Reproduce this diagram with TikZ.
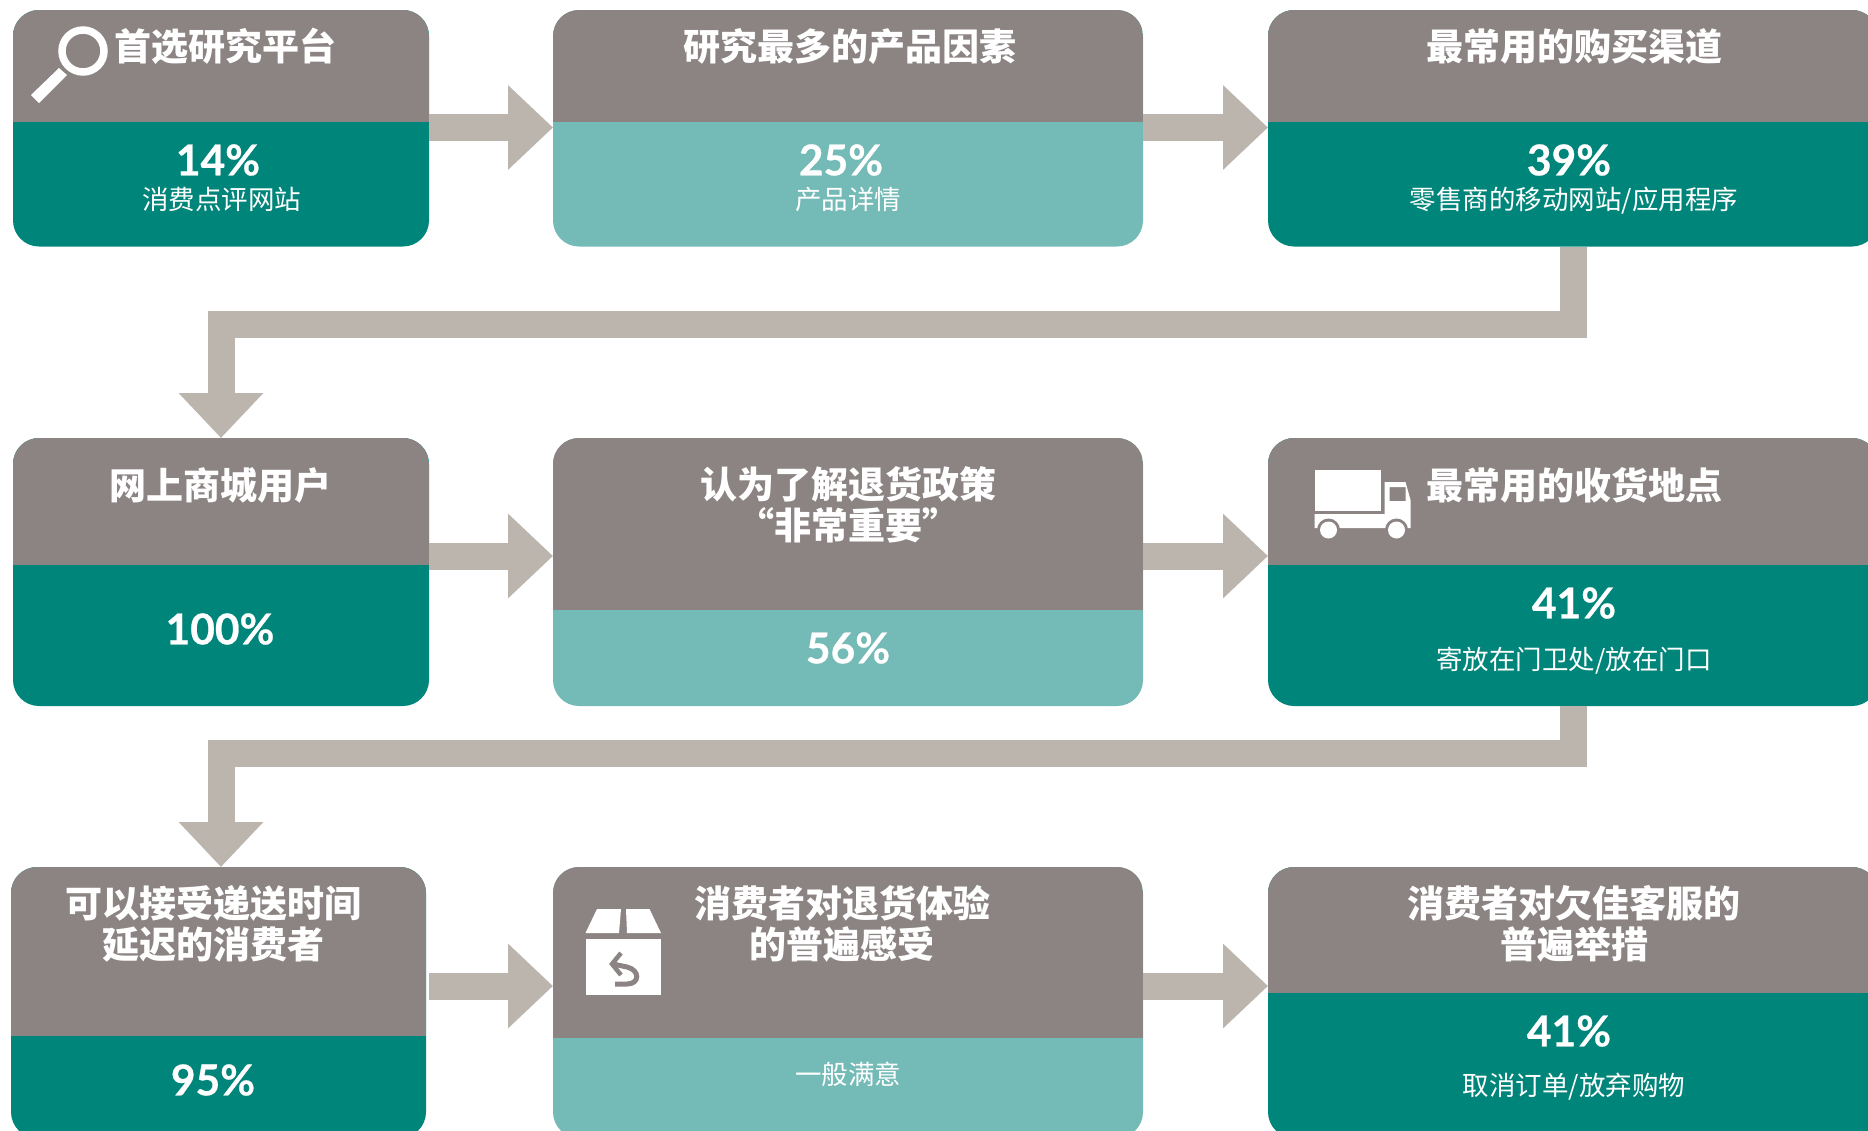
\documentclass[tikz,border=0pt]{standalone}
\usepackage{fontspec}
\usetikzlibrary{arrows.meta}
\setmainfont{Noto Sans CJK SC}
\newfontfamily\numfont[BoldFeatures={FakeBold=0.6}]{Lato}
\definecolor{hdr}{HTML}{8B8483}
\definecolor{teal}{HTML}{00857A}
\definecolor{lteal}{HTML}{74BAB6}
\definecolor{flowc}{HTML}{BCB5AE}
\tikzset{
  cardbox/.style={inner sep=0pt,outer sep=0pt,rounded corners=26pt},
  titletxt/.style={text=white,align=center,inner sep=0pt,font=\fontsize{37}{41}\selectfont\bfseries},
  numtxt/.style={text=white,inner sep=0pt,font=\fontsize{42.5}{44}\selectfont\numfont\bfseries},
  subtxt/.style={text=white,inner sep=0pt,font=\fontsize{26.5}{30}\selectfont},
  flow/.style={draw=flowc,line width=27pt,line join=miter,-{Triangle[length=45pt,width=82pt,color=flowc]}}
}
% name, x1, x2, y1, ysplit, y2, lower colour
\newcommand\card[7]{%
  \node[cardbox,fill=#7,minimum width={(#3-#2)*1pt},minimum height={(#6-#4)*1pt},
    path picture={\fill[hdr,sharp corners] (path picture bounding box.north west) rectangle
      ([yshift={-(#5-#4)*1pt}]path picture bounding box.north east);}]
    (#1) at ({(#2+#3)/2},{(#4+#6)/2}) {};}
\begin{document}
\begin{tikzpicture}[x=1pt,y=-1pt]
\useasboundingbox (0,0) rectangle (1868,1130);
\coordinate (r1) at (0,127.5);
\coordinate (r2) at (0,556);
\coordinate (r3) at (0,986);
% cards
\card{b1}{13}{429}{10}{121.5}{246.5}{teal}
\card{b2}{553}{1143}{10}{121.5}{246.5}{lteal}
\card{b3}{1268}{1878}{10}{121.5}{246.5}{teal}
\card{b4}{13}{429}{438}{565}{706}{teal}
\card{b5}{553}{1143}{438}{610}{706}{lteal}
\card{b6}{1268}{1878}{438}{565}{706}{teal}
\card{b7}{11}{426}{867}{1036}{1138}{teal}
\card{b8}{553}{1143}{867}{1038}{1138}{lteal}
\card{b9}{1268}{1878}{867}{993}{1138}{teal}
% connectors
\draw[flow] (b1.east |- r1) -- (b2.west |- r1);
\draw[flow] (b2.east |- r1) -- (b3.west |- r1);
\draw[flow] (b4.east |- r2) -- (b5.west |- r2);
\draw[flow] (b5.east |- r2) -- (b6.west |- r2);
\draw[flow] ([xshift=3pt]b7.east |- r3) -- (b8.west |- r3);
\draw[flow] (b8.east |- r3) -- (b9.west |- r3);
\draw[flow] (b3.south) -- ++(0,78) -| (b4.north);
\draw[flow] (b6.south) -- ++(0,47) -| (b4.north |- b7.north);
% texts
\node[titletxt] (t1) at (225,46) {首选研究平台};
\node[numtxt] (n1) at (218,160) {14\%};
\node[subtxt] (s1) at (221.5,199) {消费点评网站};
\node[titletxt] (t2) at (849.5,46) {研究最多的产品因素};
\node[numtxt] (n2) at (841,160) {25\%};
\node[subtxt] (s2) at (848,199) {产品详情};
\node[titletxt] (t3) at (1574,46) {最常用的购买渠道};
\node[numtxt] (n3) at (1569,160) {39\%};
\node[subtxt] (s3) at (1574,201) {零售商的移动网站/应用程序};
\node[titletxt] (t4) at (220,485) {网上商城用户};
\node[numtxt] (n4) at (220,629) {100\%};
\node[titletxt] (t5) at (848,505) {认为了解退货政策\\“非常重要”};
\node[numtxt] (n5) at (848,648) {56\%};
\node[titletxt] (t6) at (1574,485) {最常用的收货地点};
\node[numtxt] (n6) at (1574,603) {41\%};
\node[subtxt] (s6) at (1574,661) {寄放在门卫处/放在门口};
\node[titletxt] (t7) at (213,924) {可以接受递送时间\\延迟的消费者};
\node[numtxt] (n7) at (213,1080) {95\%};
\node[titletxt] (t8) at (842,924) {消费者对退货体验\\的普遍感受};
\node[subtxt] (s8) at (848,1074) {一般满意};
\node[titletxt] (t9) at (1574,924) {消费者对欠佳客服的\\普遍举措};
\node[numtxt] (n9) at (1569,1031) {41\%};
\node[subtxt] (s9) at (1574,1087) {取消订单/放弃购物};
% magnifier icon
\draw[white,line width=7.5pt] (83,51) circle (21);
\fill[white] (31,95) -- (39,103) -- (67,75) -- (59,68) -- cycle;
% truck icon
\begin{scope}[xshift=1.5pt]
\fill[white] (1313,470) rectangle (1379,511);
\fill[white,even odd rule] (1383,482) -- (1404,482) -- (1409,500) -- (1409,528) -- (1313,528) -- (1313,514) -- (1383,514) -- cycle
  (1388,487) rectangle (1404,501);
\fill[hdr] (1327,530) circle (11.5) (1395,530) circle (11.5);
\fill[hdr] (1316,528) rectangle (1338,534) (1384,528) rectangle (1406,534);
\fill[white] (1327,530) circle (8.5) (1395,530) circle (8.5);
\end{scope}
% parcel icon
\fill[white] (585.5,933) -- (597,909) -- (621,909) -- (619,933) -- cycle;
\fill[white] (627,933) -- (626,909) -- (649.5,909) -- (661,933) -- cycle;
\fill[white] (585.5,939) rectangle (661,995);
\draw[hdr,line width=4.5pt,line join=miter] (621,953) -- (612,964) -- (621,975);
\draw[hdr,line width=5pt] (613,964) -- (627,967) .. controls (640,970) and (640,984) .. (627,984) -- (615,984);
\end{tikzpicture}
\end{document}
